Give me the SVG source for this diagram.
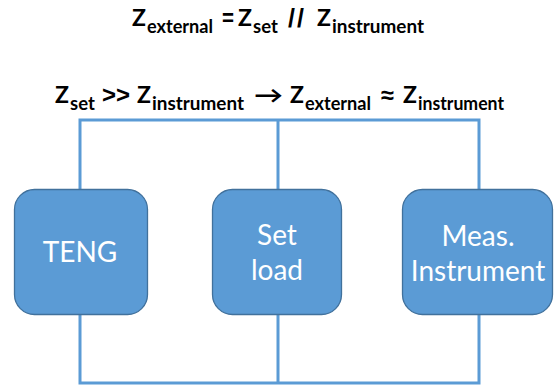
<svg xmlns="http://www.w3.org/2000/svg" width="554" height="385" viewBox="0 0 554 385">
<style>
.wire{fill:none;stroke:#5B9BD5;stroke-width:3}
.box{fill:#5B9BD5;stroke:#41719C;stroke-width:1.3}
.lbl{font-family:Lato,"Open Sans","Liberation Sans",sans-serif;font-size:28px;fill:#FFFFFF;text-anchor:middle}
.eq{font-family:Lato,"Liberation Sans",sans-serif;font-weight:bold;font-size:23px;fill:#000000}
.sub{font-size:18.5px}
.sym{font-family:"Liberation Sans","DejaVu Sans",sans-serif;font-size:23px}
.sl{font-family:"Liberation Sans","DejaVu Sans",sans-serif;font-size:25px;letter-spacing:2px}
</style>
<rect width="554" height="385" fill="#FFFFFF"/>
<g id="title1">
<text class="eq" y="26"><tspan x="132">Z</tspan><tspan class="sub" x="147" y="33" textLength="66" lengthAdjust="spacingAndGlyphs">external</tspan><tspan class="sym" x="222" y="26" textLength="12" lengthAdjust="spacingAndGlyphs">=</tspan><tspan x="238">Z</tspan><tspan class="sub" x="253" y="33">set</tspan><tspan class="sl" x="288" y="27">//</tspan><tspan x="317" y="26">Z</tspan><tspan class="sub" x="332" y="33" textLength="92" lengthAdjust="spacingAndGlyphs">instrument</tspan></text>
</g>
<g id="title2">
<text class="eq" y="103"><tspan x="55">Z</tspan><tspan class="sub" x="70" y="110">set</tspan><tspan class="sym" x="102" y="103" textLength="28" lengthAdjust="spacingAndGlyphs">&gt;&gt;</tspan><tspan x="137">Z</tspan><tspan class="sub" x="152" y="110" textLength="92" lengthAdjust="spacingAndGlyphs">instrument</tspan><tspan x="254" y="103" textLength="29" lengthAdjust="spacingAndGlyphs">→</tspan><tspan x="290">Z</tspan><tspan class="sub" x="305" y="110" textLength="66" lengthAdjust="spacingAndGlyphs">external</tspan><tspan class="sym" x="381" y="103" textLength="13" lengthAdjust="spacingAndGlyphs">≈</tspan><tspan x="403">Z</tspan><tspan class="sub" x="418" y="110" textLength="86" lengthAdjust="spacingAndGlyphs">instrument</tspan></text>
</g>
<g id="connectors">
<path class="wire" d="M80,120 H479 V383 H80 Z"/>
<path class="wire" d="M278,120 V383"/>
</g>
<g id="teng">
<rect class="box" x="14.5" y="189.5" width="133" height="125" rx="20"/>
<text class="lbl" x="80" y="262">TENG</text>
</g>
<g id="setload">
<rect class="box" x="212.5" y="189.5" width="129" height="125" rx="20"/>
<text class="lbl" x="277" y="245">Set</text>
<text class="lbl" x="277" y="280">load</text>
</g>
<g id="meas">
<rect class="box" x="402.5" y="189.5" width="150" height="125" rx="20"/>
<text class="lbl" x="478" y="246">Meas.</text>
<text class="lbl" x="478" y="281">Instrument</text>
</g>
</svg>
